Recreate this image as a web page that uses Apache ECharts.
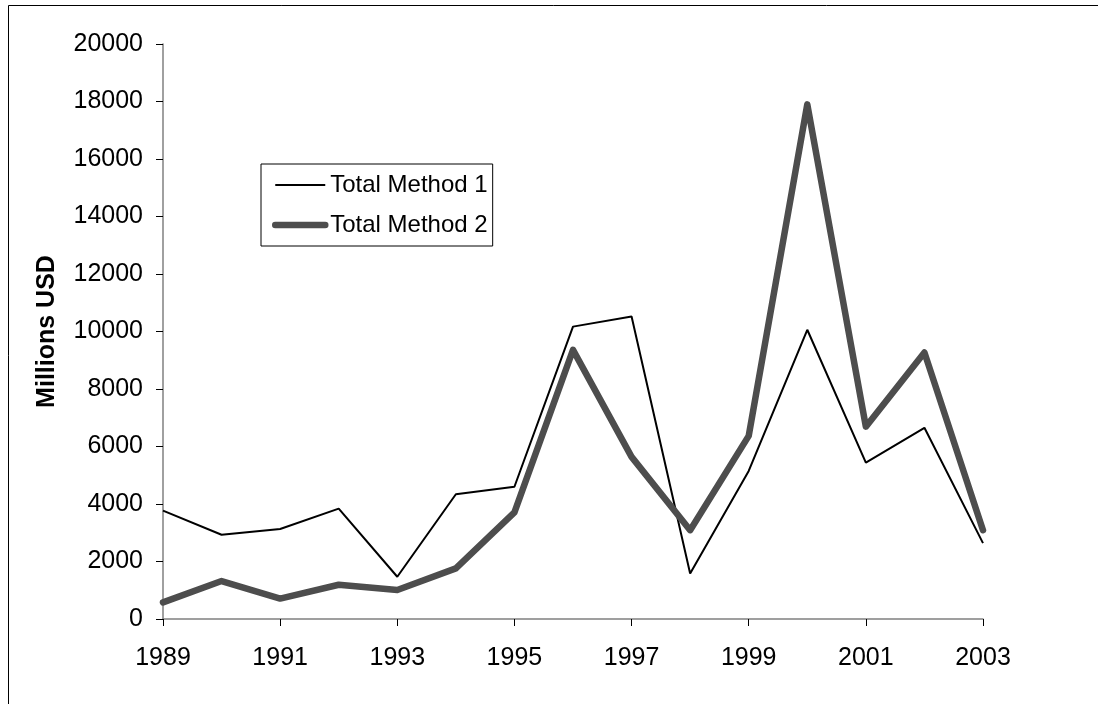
<!DOCTYPE html>
<html>
<head>
<meta charset="utf-8">
<title>Total Method 1 vs 2</title>
<script src="https://cdn.jsdelivr.net/npm/echarts@6/dist/echarts.min.js"></script>
<style>
  html, body { margin: 0; padding: 0; background: #fff; }
  #main { width: 1098px; height: 704px; }
</style>
</head>
<body>
<div id="main"></div>
<script>
// years on the x axis
var years = ["1989", "1990", "1991", "1992", "1993", "1994", "1995", "1996",
             "1997", "1998", "1999", "2000", "2001", "2002", "2003"];
// Total Method 1 (thin black line)
var method1 = [3770, 2930, 3130, 3840, 1470, 4340, 4600, 10170,
               10520, 1580, 5150, 10060, 5440, 6650, 2640];
// Total Method 2 (thick grey line)
var method2 = [580, 1320, 710, 1190, 1010, 1760, 3710, 9360,
               5640, 3090, 6370, 17900, 6690, 9270, 3090];
// y axis ticks
var yMin = 0, yMax = 20000, yStep = 2000;

var chart = echarts.init(document.getElementById("main"));

var option = {
  animation: false,
  backgroundColor: "#fff",
  textStyle: { fontFamily: "Liberation Sans, Arial, sans-serif" },
  graphic: [
    {
      // outer frame
      type: "rect",
      left: 6,
      top: 3,
      shape: { width: 1100, height: 710 },
      style: { fill: "none", stroke: "#000", lineWidth: 1 }
    }
  ],
  grid: {
    left: 163,
    right: 115,
    top: 44,
    bottom: 85
  },
  legend: {
    orient: "vertical",
    left: 261,
    top: 164,
    padding: [9, 5, 9, 11],
    itemGap: 16,
    itemWidth: 50,
    itemHeight: 14,
    borderColor: "#000",
    borderWidth: 1,
    borderRadius: 0,
    textStyle: { color: "#000", fontSize: 24 },
    data: [
      {
        name: "Total Method 1",
        lineStyle: { color: "#000", width: 2 },
        itemStyle: { opacity: 0 }
      },
      {
        name: "Total Method 2",
        lineStyle: { color: "#4d4d4d", width: 6.5 },
        itemStyle: { opacity: 0 }
      }
    ]
  },
  xAxis: {
    type: "category",
    boundaryGap: false,
    data: years,
    axisLine: { lineStyle: { color: "#808080", width: 1.5 } },
    axisTick: { interval: 1, length: 7, lineStyle: { color: "#000" } },
    axisLabel: { interval: 1, color: "#000", fontSize: 25, margin: 27 },
    splitLine: { show: false }
  },
  yAxis: {
    type: "value",
    min: yMin,
    max: yMax,
    interval: yStep,
    name: "Millions USD",
    nameLocation: "middle",
    nameGap: 103,
    nameTextStyle: { color: "#000", fontSize: 25, fontWeight: "bold" },
    axisLine: { show: true, lineStyle: { color: "#808080", width: 1.5 } },
    axisTick: { show: true, length: 7, lineStyle: { color: "#000" } },
    axisLabel: {
      color: "#000",
      fontSize: 25,
      margin: 20,
      formatter: function (v) { return String(v); }
    },
    splitLine: { show: false }
  },
  series: [
    {
      name: "Total Method 1",
      type: "line",
      data: method1,
      symbol: "none",
      color: "#000",
      lineStyle: { color: "#000", width: 2 }
    },
    {
      name: "Total Method 2",
      type: "line",
      data: method2,
      symbol: "none",
      color: "#4d4d4d",
      lineStyle: { color: "#4d4d4d", width: 6.5, cap: "round", join: "round" }
    }
  ]
};

chart.setOption(option);
</script>
</body>
</html>
